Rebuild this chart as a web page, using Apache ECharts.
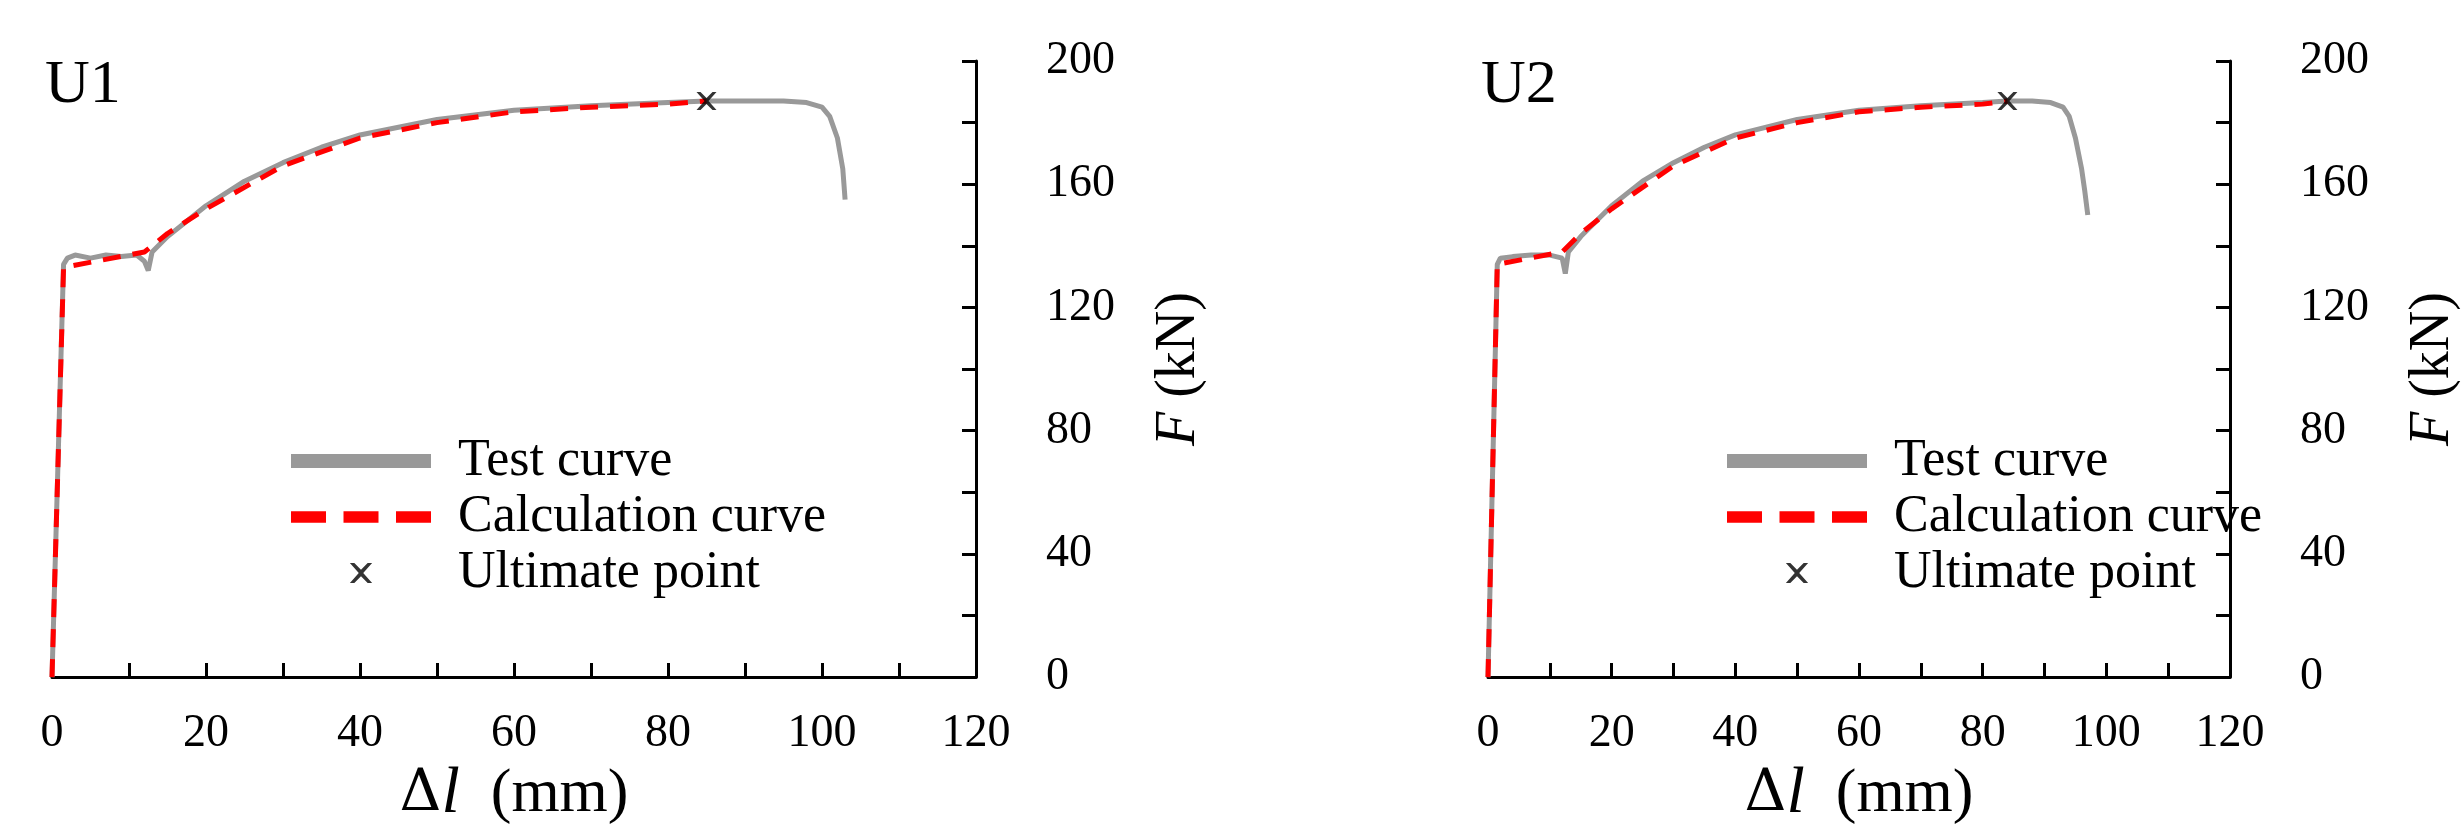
<!DOCTYPE html>
<html>
<head>
<meta charset="utf-8">
<script src="https://cdn.jsdelivr.net/npm/echarts@6/dist/echarts.min.js"></script>
<style>html,body{margin:0;background:#fff}#chart{width:2462px;height:833px}</style>
</head>
<body>
<div id="chart"></div>
<script>
// U1 data (Δl mm, F kN)
var u1Test = [[0,0],[1.5,134],[2,136],[3,137],[5,136],[7,137],[9,136.5],[11,137],[12,135],[12.5,132],[13,138],[15,143],[20,153],[25,161],[30,167],[35,172],[40,176],[50,181],[60,184],[70,185.5],[80,186.5],[85,187],[90,187],[95,187],[98,186.5],[100,185],[101,182],[102,175],[102.7,165],[103,155]];
var u1Calc = [[0,0],[1.5,133],[12,138],[15,144],[20,152],[30,166],[40,175],[50,180],[60,183.5],[70,185],[80,186],[85,187]];
var u1Ult = [[85,187]];
// U2 data
var u2Test = [[0,0],[1.5,134],[2,136],[4,136.5],[7,137],[10,137],[12,136],[12.5,131],[13,138],[15,143],[20,153],[25,161],[30,167],[35,172],[40,176],[50,181],[60,184],[70,185.5],[80,186.5],[84,187],[88,187],[91,186.5],[93,185],[94,182],[95,175],[96,165],[96.5,158],[97,150]];
var u2Calc = [[0,0],[1.5,134],[12,138],[15,144],[20,152],[30,166],[40,175],[50,180],[60,183.5],[70,185],[80,186],[84,187]];
var u2Ult = [[84,187]];
var panelLabels = ['U1', 'U2'];

var FONT = 'Liberation Serif';
var crossIcon = 'path://M0,0L2,0L5,3L8,0L10,0L6,4.5L10,9L8,9L5,6L2,9L0,9L4,4.5Z';

function xAxis(i) {
  return {
    gridIndex: i, type: 'value', min: 0, max: 120, interval: 10,
    axisLine: {lineStyle: {color: '#000', width: 3}},
    axisTick: {inside: true, length: 14, lineStyle: {color: '#000', width: 3}},
    splitLine: {show: false},
    axisLabel: {color: '#000', fontFamily: FONT, fontSize: 46, margin: 34,
      formatter: function (v) { return v % 20 === 0 ? v : ''; }},
    name: '{d|Δ}{l|l}  (mm)', nameLocation: 'middle', nameGap: 72,
    nameTextStyle: {color: '#000', fontFamily: FONT, fontSize: 62,
      rich: {d: {fontFamily: 'DejaVu Serif', fontSize: 58, color: '#000'},
             l: {fontFamily: FONT, fontStyle: 'italic', fontSize: 66, color: '#000'},
             '': {}}}
  };
}
function yAxis(i) {
  return {
    gridIndex: i, type: 'value', min: 0, max: 200, interval: 20, position: 'right',
    axisLine: {show: true, onZero: false, lineStyle: {color: '#000', width: 3}},
    axisTick: {show: true, inside: true, length: 14, lineStyle: {color: '#000', width: 3}},
    splitLine: {show: false},
    axisLabel: {color: '#000', fontFamily: FONT, fontSize: 46, margin: 70,
      formatter: function (v) { return v % 40 === 0 ? v : ''; }},
    name: '{f|F} (kN)', nameLocation: 'middle', nameGap: 175, nameRotate: 90,
    nameTextStyle: {color: '#000', fontFamily: FONT, fontSize: 56,
      rich: {f: {fontFamily: FONT, fontStyle: 'italic', fontSize: 56, color: '#000'}}}
  };
}
function series(i, test, calc, ult) {
  return [
    {name: 'Test curve', type: 'line', xAxisIndex: i, yAxisIndex: i, data: test, showSymbol: false,
      lineStyle: {color: '#999', width: 5}, itemStyle: {color: '#999'}, z: 2},
    {name: 'Calculation curve', type: 'line', xAxisIndex: i, yAxisIndex: i, data: calc, showSymbol: false,
      lineStyle: {color: '#ff0000', width: 5, type: [18, 12]}, itemStyle: {color: '#ff0000'}, z: 3},
    {name: 'Ultimate point', type: 'scatter', xAxisIndex: i, yAxisIndex: i, data: ult,
      symbol: crossIcon, symbolSize: [20, 18], itemStyle: {color: '#000'}, z: 4}
  ];
}
function legend(left) {
  return {
    orient: 'vertical', left: left, top: 428, itemWidth: 140, itemHeight: 20, itemGap: 0,
    textStyle: {color: '#000', fontFamily: FONT, fontSize: 52, lineHeight: 56, padding: [0, 0, 0, 22]},
    data: [
      {name: 'Test curve', icon: 'path://M0,0H10V1H0Z', itemStyle: {color: '#999'}},
      {name: 'Calculation curve', icon: 'path://M0,0H3V1H0ZM4.5,0H7.5V1H4.5ZM9,0H12V1H9Z', itemStyle: {color: '#ff0000'}},
      {name: 'Ultimate point', icon: crossIcon, itemStyle: {color: '#000'}}
    ],
    selectedMode: false
  };
}

var chart = echarts.init(document.getElementById('chart'));
chart.setOption({
  animation: false,
  grid: [
    {left: 52, width: 924, top: 61, height: 647},
    {left: 1488, width: 923, top: 61, height: 647}
  ],
  xAxis: [xAxis(0), xAxis(1)],
  yAxis: [yAxis(0), yAxis(1)],
  legend: [legend(286), legend(1722)],
  graphic: [
    {type: 'text', left: 45, top: 55, style: {text: panelLabels[0], font: '62px "Liberation Serif"', fill: '#000'}},
    {type: 'text', left: 1481, top: 55, style: {text: panelLabels[1], font: '62px "Liberation Serif"', fill: '#000'}}
  ],
  series: series(0, u1Test, u1Calc, u1Ult).concat(series(1, u2Test, u2Calc, u2Ult))
});
</script>
</body>
</html>
